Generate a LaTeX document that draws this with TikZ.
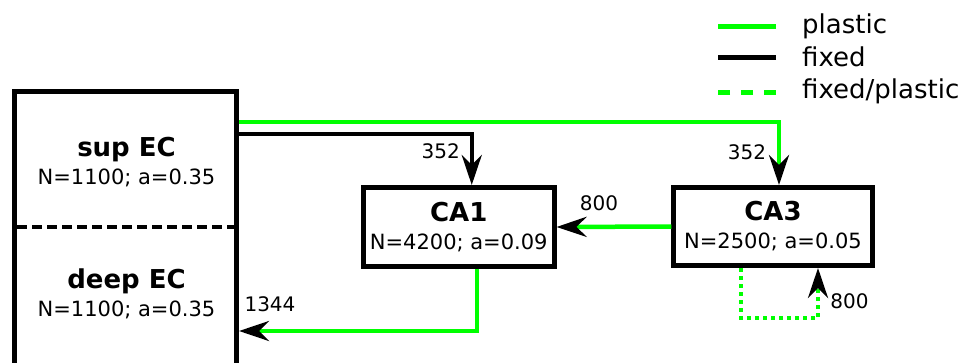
\documentclass[tikz,border=0pt]{standalone}
\usepackage{fontspec}
\setmainfont{DejaVu Sans}
\usetikzlibrary{positioning, arrows.meta}
\definecolor{plasticgreen}{RGB}{0, 255, 0}

\begin{document}
\begin{tikzpicture}[
    x=1pt, y=-1pt,
    popbox/.style={
        draw,
        line width=5pt,
        align=center,
        font=\fontsize{21}{28}\selectfont,
        minimum width=#1,
        minimum height=79pt,
        inner sep=0pt
    },
    popbox/.default=190pt,
    layerlbl/.style={align=center, font=\fontsize{21}{28}\selectfont, inner sep=0pt},
    numlbl/.style={font=\fontsize{20}{24}\selectfont, inner sep=0pt},
    legtext/.style={font=\fontsize{26}{30}\selectfont, anchor=west, inner sep=0pt},
    tip/.style={-{Stealth[length=30pt, width=20pt, inset=10pt, color=black]}},
    plastic/.style={draw=plasticgreen, line width=4.5pt, tip},
    fixed/.style={draw=black, line width=4.5pt, tip},
    fixplastic/.style={draw=plasticgreen, line width=4.5pt, dash pattern=on 4pt off 4pt, tip},
    divider/.style={draw=black, line width=4.5pt, dash pattern=on 10pt off 5pt}
]
\useasboundingbox (0,0) rectangle (977,362);

% === Entorhinal cortex ===
\node[draw, line width=5pt, minimum width=222pt, minimum height=291pt, inner sep=0pt] (ec) at (125.5,237) {};
\node[layerlbl] (supec) at (126.5,162) {{\fontsize{26}{27}\selectfont\bfseries sup EC}\\N=1100; a=0.35};
\node[layerlbl] (deepec) at (126.5,294) {{\fontsize{26}{29}\selectfont\bfseries deep EC}\\N=1100; a=0.35};
\draw[divider] ([xshift=5pt]ec.west |- 0,227) -- ([xshift=-5pt]ec.east |- 0,227);

% === Hippocampal fields ===
\node[popbox=190.5pt] (ca1) at (458.75,227) {{\fontsize{26}{28}\selectfont\bfseries CA1}\\N=4200; a=0.09};
\node[popbox=198.5pt, minimum height=78pt] (ca3) at (773,226.5) {{\fontsize{26}{28}\selectfont\bfseries CA3}\\N=2500; a=0.05};

% === Legend ===
\node[legtext] (lplastic) at (802,26) {plastic};
\node[legtext] (lfixed) at (802,57) {fixed};
\node[legtext] (lfixplastic) at (802,91) {fixed/plastic};
\draw[plasticgreen, line width=5pt] ([xshift=-26pt]lplastic.west) -- ++(-58,0);
\draw[black, line width=5pt] ([xshift=-26pt]lfixed.west |- 0,57) -- ++(-58,0);
\draw[plasticgreen, line width=5pt, dash pattern=on 12pt off 11pt] ([xshift=-26pt]lfixplastic.west |- 0,92) -- ++(-58,0);

% === Connections ===
\coordinate (plasticrow) at (0,122);
\coordinate (fixedrow) at (0,134);
\coordinate (returnrow) at (0,331);
\draw[plastic] (ec.east |- plasticrow) -| ([xshift=6pt]ca3.north);
\draw[fixed] (ec.east |- fixedrow) -| ([xshift=13pt]ca1.north);
\draw[plastic] (ca3.west) -- (ca1.east);
\draw[plastic] ([xshift=18pt]ca1.south) |- (ec.east |- returnrow);
\draw[fixplastic] ([xshift=-32pt]ca3.south) -- ++(0,50) -| ([xshift=45pt]ca3.south);

% === Sizes ===
\node[numlbl] (n352a) at ([shift={(-18,-34)}]ca1.north) {352};
\node[numlbl] (n352b) at ([shift={(-26,-33)}]ca3.north) {352};
\node[numlbl] (n800a) at ([shift={(42.5,-24)}]ca1.east) {800};
\node[numlbl] (n1344) at ([shift={(31,-26.5)}]ec.east |- returnrow) {1344};
\node[numlbl] (n800b) at ([shift={(76.5,33.5)}]ca3.south) {800};

\end{tikzpicture}
\end{document}
